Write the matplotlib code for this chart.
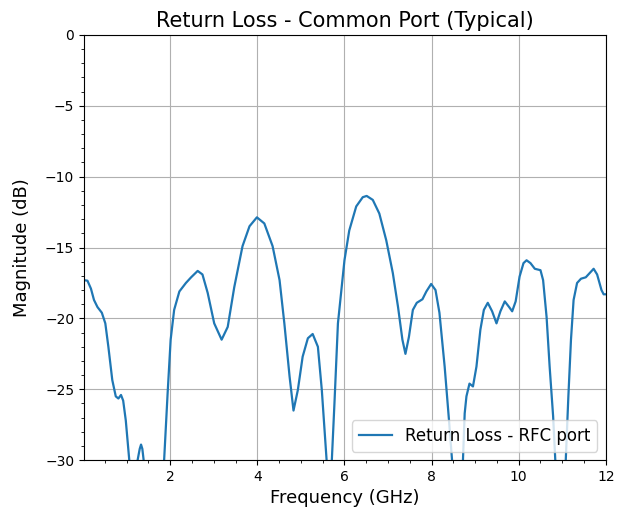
import matplotlib
matplotlib.use("Agg")
import matplotlib.pyplot as plt
from matplotlib.ticker import MultipleLocator

freq_ghz = [0.02, 0.10, 0.18, 0.25, 0.33, 0.43, 0.51, 0.58, 0.67, 0.75, 0.81, 0.87, 0.92, 0.98,
            1.06, 1.12, 1.19, 1.25, 1.30, 1.33, 1.36, 1.39, 1.45, 1.55, 1.65, 1.75, 1.86,
            1.94, 2.01, 2.09, 2.21, 2.36, 2.48, 2.63, 2.74, 2.86, 3.01, 3.18, 3.32, 3.47,
            3.66, 3.82, 3.99, 4.16, 4.35, 4.51, 4.62, 4.74, 4.83, 4.93, 5.04, 5.16, 5.27,
            5.39, 5.48, 5.56, 5.59, 5.65, 5.71, 5.77, 5.85, 6.00, 6.11, 6.27, 6.42, 6.51,
            6.65, 6.80, 6.96, 7.11, 7.23, 7.33, 7.40, 7.48, 7.57, 7.66, 7.79, 7.88, 7.99,
            8.09, 8.18, 8.30, 8.40, 8.47, 8.55, 8.64, 8.72, 8.76, 8.80, 8.87, 8.95, 9.03,
            9.12, 9.20, 9.29, 9.39, 9.49, 9.58, 9.68, 9.78, 9.85, 9.93, 10.02, 10.11, 10.18,
            10.27, 10.37, 10.50, 10.56, 10.64, 10.71, 10.79, 10.84, 10.90, 10.96, 11.02,
            11.08, 11.14, 11.20, 11.26, 11.34, 11.43, 11.54, 11.63, 11.72, 11.80, 11.90,
            11.95, 12.00]
return_loss_db = [-17.3, -17.34, -17.9, -18.7, -19.2, -19.6, -20.35, -22.0, -24.35, -25.5, -25.65,
                  -25.4, -25.8, -27.2, -30.0, -31.0, -31.0, -30.0, -29.2, -28.9, -29.2, -30.0,
                  -32.0, -34.0, -35.0, -34.0, -30.0, -25.3, -21.5, -19.4, -18.1, -17.5, -17.1,
                  -16.65, -16.9, -18.2, -20.35, -21.5, -20.6, -17.8, -14.9, -13.5, -12.87, -13.3,
                  -14.9, -17.3, -20.35, -24.1, -26.5, -25.05, -22.7, -21.4, -21.1, -22.0, -25.05,
                  -28.6, -30.0, -31.5, -30.0, -26.0, -20.35, -15.9, -13.8, -12.1, -11.45, -11.36,
                  -11.64, -12.6, -14.5, -16.8, -19.2, -21.5, -22.5, -21.3, -19.4, -18.9, -18.65,
                  -18.1, -17.57, -18.0, -19.6, -23.4, -27.2, -30.0, -32.5, -32.5, -30.0, -26.7,
                  -25.5, -24.6, -24.8, -23.4, -20.8, -19.4, -18.9, -19.5, -20.35, -19.5, -18.8,
                  -19.2, -19.5, -18.8, -17.05, -16.1, -15.9, -16.1, -16.5, -16.6, -17.3, -19.9,
                  -23.4, -26.9, -30.0, -33.0, -34.0, -33.0, -30.0, -25.5, -21.5, -18.7, -17.5,
                  -17.2, -17.1, -16.8, -16.5, -16.9, -18.0, -18.3, -18.3]

x_ticks = [2, 4, 6, 8, 10, 12]
y_ticks = [0, -5, -10, -15, -20, -25, -30]

fig = plt.figure(figsize=(6.22, 5.13), dpi=100)
ax = fig.add_axes([0.135, 0.103, 0.839, 0.829])
ax.plot(freq_ghz, return_loss_db, color="#1f77b4", linewidth=1.6,
        solid_joinstyle="round", label="Return Loss - RFC port")
ax.set_xlim(0.02, 12)
ax.set_ylim(-30, 0)
ax.set_xticks(x_ticks)
ax.set_yticks(y_ticks)
ax.xaxis.set_minor_locator(MultipleLocator(0.5))
ax.yaxis.set_minor_locator(MultipleLocator(1))
ax.grid(True, which="major", color="#b0b0b0", linewidth=0.8)
ax.tick_params(labelsize=10)
ax.set_title("Return Loss - Common Port (Typical)", fontsize=15)
ax.set_xlabel("Frequency (GHz)", fontsize=13)
ax.set_ylabel("Magnitude (dB)", fontsize=13, labelpad=10)
ax.legend(loc="lower right", fontsize=12)
fig.savefig("out.png", dpi=100)
